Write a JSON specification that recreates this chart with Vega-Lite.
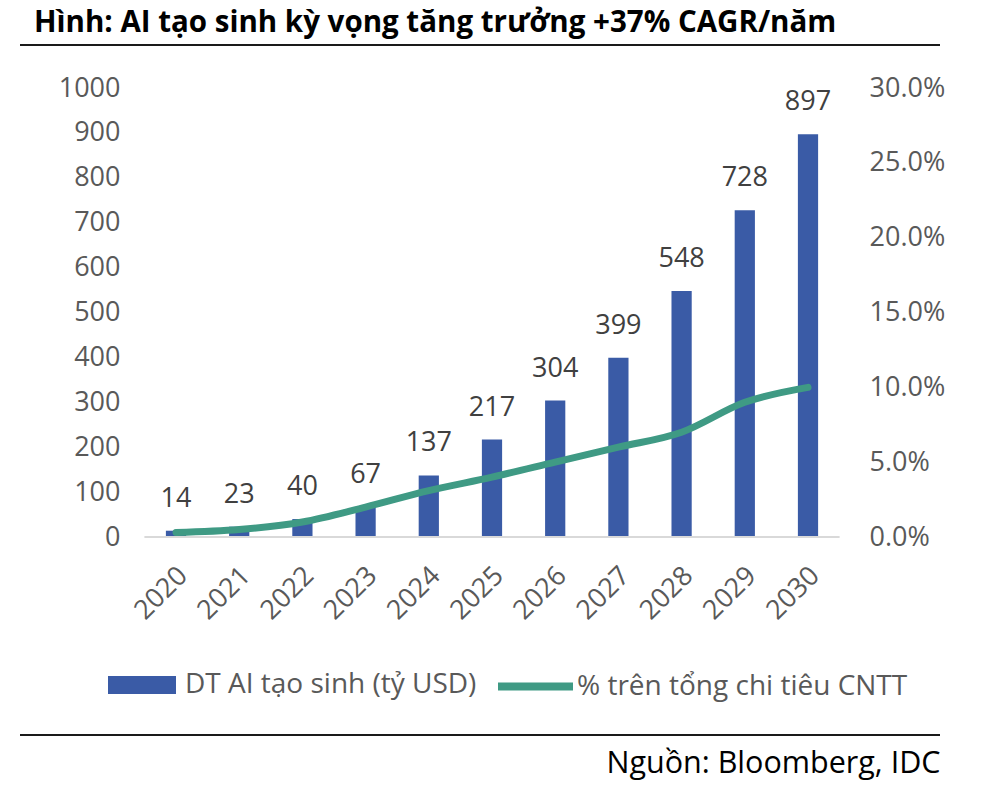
{
  "$schema": "https://vega.github.io/schema/vega-lite/v6.json",
  "width": 920,
  "height": 449,
  "autosize": {"type": "none"},
  "padding": {"left": 20, "top": 88, "right": 42, "bottom": 251},
  "background": "white",
  "config": {"font": "Open Sans", "view": {"stroke": null}},
  "title": {
    "text": "Hình: AI tạo sinh kỳ vọng tăng trưởng +37% CAGR/năm",
    "anchor": "start",
    "frame": "group",
    "font": "Open Sans",
    "fontSize": 29.5,
    "fontWeight": "bold",
    "color": "#000000",
    "dx": 14,
    "dy": 27,
    "offset": 9,
    "baseline": "alphabetic"
  },
  "data": {
    "values": [
      {"year": "2020", "revenue": 14, "share": 0.003},
      {"year": "2021", "revenue": 23, "share": 0.005},
      {"year": "2022", "revenue": 40, "share": 0.01},
      {"year": "2023", "revenue": 67, "share": 0.02},
      {"year": "2024", "revenue": 137, "share": 0.031},
      {"year": "2025", "revenue": 217, "share": 0.04},
      {"year": "2026", "revenue": 304, "share": 0.05},
      {"year": "2027", "revenue": 399, "share": 0.06},
      {"year": "2028", "revenue": 548, "share": 0.07},
      {"year": "2029", "revenue": 728, "share": 0.09},
      {"year": "2030", "revenue": 897, "share": 0.1}
    ]
  },
  "layer": [
    {
      "layer": [
        {
          "mark": {"type": "bar", "width": {"band": 0.32}},
          "encoding": {
            "x": {
              "field": "year",
              "type": "ordinal",
              "scale": {"paddingInner": 0, "paddingOuter": 0, "range": [124.4, 819.6]},
              "axis": {
                "labelAngle": -45,
                "labelFontSize": 27,
                "labelColor": "#595959",
                "domain": false,
                "ticks": false,
                "tickSize": 0,
                "labelPadding": 25,
                "labelOffset": -2,
                "title": "Nguồn: Bloomberg, IDC",
                "titleFontSize": 30.5,
                "titleFontWeight": "normal",
                "titleColor": "#000000",
                "titleX": 920,
                "titleY": 235,
                "titleAlign": "right",
                "titleAnchor": "end",
                "titleBaseline": "alphabetic"
              }
            },
            "y": {
              "field": "revenue",
              "type": "quantitative",
              "scale": {"domain": [0, 1000], "nice": false},
              "axis": {
                "orient": "left",
                "offset": -125,
                "values": [0, 100, 200, 300, 400, 500, 600, 700, 800, 900, 1000],
                "format": "d",
                "labelPadding": 25,
                "tickSize": 0,
                "ticks": false,
                "domain": false,
                "grid": false,
                "labelFontSize": 27,
                "labelColor": "#595959",
                "title": null
              }
            },
            "color": {
              "datum": "DT AI tạo sinh (tỷ USD)",
              "scale": {"range": ["#3A5BA6"]},
              "legend": {
                "orient": "none",
                "legendX": 88,
                "legendY": 563,
                "title": null,
                "padding": 0,
                "symbolType": "M-1,-0.265H1V0.265H-1Z",
                "symbolSize": 4624,
                "symbolStrokeWidth": 0,
                "labelFontSize": 28,
                "labelLimit": 600,
                "labelColor": "#595959",
                "labelOffset": 9
              }
            }
          }
        },
        {
          "mark": {"type": "text", "fontSize": 27, "color": "#404040", "baseline": "alphabetic", "dy": -24},
          "encoding": {
            "x": {"field": "year", "type": "ordinal"},
            "y": {"field": "revenue", "type": "quantitative"},
            "text": {"field": "revenue", "type": "quantitative"}
          }
        },
        {
          "data": {"values": [{}]},
          "mark": {"type": "rule", "color": "#D9D9D9", "strokeWidth": 2},
          "encoding": {
            "x": {"datum": "2020", "type": "ordinal", "bandPosition": 0},
            "x2": {"datum": "2030", "bandPosition": 1},
            "y": {"datum": 0, "type": "quantitative"}
          }
        },
        {
          "data": {"values": [{}]},
          "mark": {"type": "rule", "color": "#1A1A1A", "strokeWidth": 2},
          "encoding": {"y": {"datum": 1096, "type": "quantitative"}}
        },
        {
          "data": {"values": [{}]},
          "mark": {"type": "rule", "color": "#1A1A1A", "strokeWidth": 2},
          "encoding": {"y": {"datum": -441, "type": "quantitative"}}
        }
      ]
    },
    {
      "mark": {"type": "line", "strokeWidth": 7, "strokeCap": "round", "interpolate": "monotone"},
      "encoding": {
        "x": {"field": "year", "type": "ordinal"},
        "y": {
          "field": "share",
          "type": "quantitative",
          "scale": {"domain": [0, 0.3], "nice": false},
          "axis": {
            "orient": "right",
            "offset": -100,
            "values": [0, 0.05, 0.1, 0.15, 0.2, 0.25, 0.3],
            "format": ".1%",
            "labelPadding": 29,
            "tickSize": 0,
            "ticks": false,
            "domain": false,
            "grid": false,
            "labelFontSize": 27,
            "labelColor": "#595959",
            "title": null
          }
        },
        "stroke": {
          "datum": "% trên tổng chi tiêu CNTT",
          "scale": {"range": ["#3F9A84"]},
          "legend": {
            "orient": "none",
            "legendX": 474,
            "legendY": 557,
            "title": null,
            "padding": 0,
            "symbolType": "stroke",
            "symbolSize": 5625,
            "symbolStrokeWidth": 8,
            "labelFontSize": 28,
            "labelLimit": 600,
            "labelColor": "#595959",
            "labelOffset": 0
          }
        }
      }
    }
  ],
  "resolve": {"scale": {"y": "independent"}}
}
